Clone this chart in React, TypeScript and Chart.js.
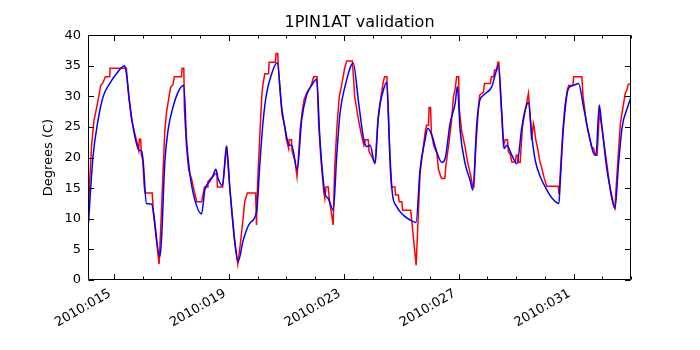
import { useEffect, useRef } from 'react';
import { Chart, registerables } from 'chart.js';

Chart.register(...registerables);

const TITLE = '1PIN1AT validation';
const Y_LABEL = 'Degrees (C)';
const X_MIN = 14.094;
const X_MAX = 33.0;
const X_MAJOR_DAYS = [15, 19, 23, 27, 31];
const X_TICK_LABELS = ['2010:015', '2010:019', '2010:023', '2010:027', '2010:031'];
const X_MINOR_DAYS = [15, 16, 17, 18, 19, 20, 21, 22, 23, 24, 25, 26, 27, 28, 29, 30, 31, 32, 33];
const Y_TICKS = [0, 5, 10, 15, 20, 25, 30, 35, 40];

// Model (blue)
const BLUE_DAY = [
  14.094, 14.268, 14.443, 14.617, 14.85, 15.084, 15.373, 15.432, 15.547, 15.662,
  15.781, 15.872, 15.955, 16.011, 16.13, 16.304, 16.36, 16.593, 16.652, 16.767,
  16.882, 17.057, 17.231, 17.405, 17.43, 17.524, 17.639, 17.813, 18.047, 18.162,
  18.336, 18.451, 18.545, 18.625, 18.778, 18.918, 19.033, 19.207, 19.322, 19.497,
  19.73, 19.964, 20.079, 20.194, 20.313, 20.487, 20.682, 20.835, 21.01, 21.1,
  21.184, 21.379, 21.532, 21.706, 21.881, 22.055, 22.17, 22.344, 22.459, 22.634,
  22.752, 22.867, 23.041, 23.331, 23.505, 23.679, 23.798, 23.913, 24.088, 24.202,
  24.377, 24.495, 24.61, 24.69, 24.843, 25.073, 25.307, 25.516, 25.655, 25.83,
  25.924, 26.063, 26.238, 26.412, 26.527, 26.701, 26.876, 26.956, 27.05, 27.224,
  27.398, 27.492, 27.632, 27.722, 27.862, 28.154, 28.269, 28.385, 28.503, 28.583,
  28.677, 28.851, 29.026, 29.2, 29.315, 29.43, 29.549, 29.664, 29.838, 30.072,
  30.302, 30.49, 30.535, 30.65, 30.825, 31.0, 31.173, 31.347, 31.522, 31.696,
  31.78, 31.895, 31.988, 32.163, 32.337, 32.442, 32.567, 32.692, 32.886, 33.0,
];
const BLUE_TEMP = [
  8.2, 20.1, 26.1, 29.9, 32.1, 33.7, 35.0, 33.7, 28.9, 25.0,
  22.3, 21.2, 21.1, 19.6, 12.5, 12.4, 11.5, 3.8, 6.5, 19.1,
  24.5, 28.3, 30.7, 31.8, 31.8, 22.9, 17.4, 13.1, 10.8, 14.7,
  16.1, 17.1, 18.1, 16.6, 15.4, 21.9, 15.0, 6.0, 3.0, 6.5,
  9.3, 11.2, 19.1, 26.1, 30.5, 33.7, 35.5, 28.3, 23.4, 22.0,
  22.0, 18.0, 26.1, 30.2, 31.8, 32.8, 22.9, 14.2, 13.3, 11.4,
  20.1, 27.2, 31.6, 35.4, 29.4, 23.4, 21.8, 22.0, 19.0, 26.7,
  31.0, 32.3, 20.1, 14.2, 12.0, 10.6, 9.8, 9.4, 18.0, 22.9,
  24.8, 23.7, 20.9, 19.2, 19.8, 25.6, 28.8, 31.6, 24.5, 19.0,
  16.3, 14.7, 25.6, 29.1, 30.2, 31.6, 33.5, 35.1, 27.2, 21.5,
  22.0, 20.4, 19.0, 25.0, 27.8, 29.0, 23.4, 19.6, 16.9, 14.7,
  13.1, 12.5, 16.0, 25.0, 31.3, 31.8, 32.1, 28.3, 24.0, 20.7,
  20.4, 28.6, 25.0, 18.0, 13.6, 11.7, 19.0, 25.0, 28.3, 29.9,
];

// Telemetry (red)
const RED_DAY = [
  14.094, 14.15, 14.22, 14.3, 14.4, 14.47, 14.53, 14.62, 14.7, 14.85,
  14.86, 15.43, 15.5, 15.6, 15.72, 15.8, 15.86, 15.88, 15.93, 15.95,
  16.0, 16.05, 16.08, 16.33, 16.37, 16.5, 16.57, 16.64, 16.7, 16.77,
  16.83, 16.9, 16.97, 17.05, 17.1, 17.35, 17.37, 17.43, 17.45, 17.52,
  17.6, 17.7, 17.81, 17.88, 18.05, 18.15, 18.25, 18.27, 18.35, 18.45,
  18.52, 18.58, 18.6, 18.78, 18.92, 19.03, 19.2, 19.31, 19.4, 19.5,
  19.55, 19.64, 19.93, 19.96, 20.0, 20.08, 20.15, 20.19, 20.25, 20.38,
  20.4, 20.62, 20.64, 20.7, 20.72, 20.78, 20.85, 20.93, 21.0, 21.08,
  21.1, 21.18, 21.2, 21.3, 21.37, 21.42, 21.48, 21.55, 21.62, 21.72,
  21.8, 21.88, 21.95, 22.07, 22.12, 22.2, 22.3, 22.34, 22.38, 22.46,
  22.5, 22.63, 22.68, 22.76, 22.84, 22.93, 23.03, 23.1, 23.3, 23.38,
  23.5, 23.6, 23.7, 23.75, 23.85, 23.88, 23.98, 24.06, 24.1, 24.18,
  24.28, 24.38, 24.42, 24.5, 24.62, 24.66, 24.78, 24.8, 24.9, 24.93,
  25.02, 25.05, 25.33, 25.52, 25.655, 25.83, 25.88, 25.95, 25.97, 26.02,
  26.05, 26.13, 26.24, 26.3, 26.4, 26.52, 26.55, 26.65, 26.75, 26.82,
  26.88, 26.93, 27.0, 27.02, 27.1, 27.22, 27.3, 27.42, 27.49, 27.53,
  27.6, 27.68, 27.73, 27.86, 27.9, 28.1, 28.14, 28.22, 28.25, 28.33,
  28.36, 28.4, 28.45, 28.52, 28.56, 28.62, 28.7, 28.73, 28.8, 28.85,
  28.98, 29.0, 29.06, 29.08, 29.14, 29.22, 29.28, 29.35, 29.43, 29.47,
  29.54, 29.6, 29.63, 29.68, 29.75, 29.82, 29.88, 29.98, 30.07, 30.47,
  30.49, 30.52, 30.62, 30.7, 30.78, 30.83, 30.98, 31.0, 31.29, 31.33,
  31.45, 31.6, 31.63, 31.7, 31.76, 31.82, 31.9, 31.95, 32.0, 32.1,
  32.2, 32.3, 32.37, 32.44, 32.48, 32.63, 32.8, 32.85, 32.91, 33.0,
];
const RED_TEMP = [
  9.5, 16, 22, 26, 28.3, 30, 31.7, 32.3, 33.2, 33.2,
  34.6, 34.6, 30.5, 26.5, 24, 22.5, 21.2, 23.0, 23.0, 20.5,
  19.6, 15.5, 14.2, 14.2, 11, 5.5, 2.6, 10, 17, 24.5,
  27.5, 29.5, 31.5, 31.9, 33.2, 33.2, 34.6, 34.6, 28, 22,
  18.0, 16.5, 14.2, 12.8, 12.8, 15.2, 15.2, 16.1, 16.5, 16.9,
  17.4, 17.4, 15.2, 15.2, 21.9, 15, 6.5, 2.6, 6, 10.3,
  12.8, 14.2, 14.2, 9.0, 16, 24, 30.5, 32.1, 33.7, 33.7,
  35.6, 35.6, 37.0, 37.0, 35.2, 31, 27, 25.5, 23.0, 21.5,
  22.9, 22.9, 21, 19.5, 16.9, 20, 24.5, 27.5, 29.5, 30.7,
  31.2, 32, 33.2, 33.2, 26, 20, 14.5, 13.3, 15.2, 15.2,
  13, 9.0, 18, 25, 29.9, 32, 34.6, 35.8, 35.8, 30,
  26.5, 24, 22.0, 22.9, 22.9, 21, 20.1, 19.3, 19.5, 25.5,
  29.5, 32.5, 33.2, 33.2, 18, 15.2, 15.2, 13.9, 13.9, 12.8,
  12.8, 11.4, 11.4, 2.4, 17.4, 24.0, 25.3, 25.3, 28.2, 28.2,
  24, 22, 20.7, 18.0, 16.6, 16.6, 18.5, 22, 26, 30,
  31.3, 33.2, 33.2, 28, 24.5, 21.8, 19.5, 17, 15.2, 15.2,
  22, 27.5, 30.2, 30.7, 32.1, 32.1, 33.2, 33.2, 34.3, 34.3,
  35.6, 35.6, 31, 25, 22.0, 22.9, 22.9, 21, 20.5, 19.3,
  19.3, 20.4, 20.4, 19.2, 19.2, 25.0, 26.7, 28.5, 30.5, 28,
  22.9, 25.6, 25.0, 23, 21.5, 19.5, 18.5, 16.6, 15.3, 15.3,
  14.0, 16, 24, 28.5, 31, 31.8, 31.8, 33.2, 33.2, 30,
  25.6, 22.5, 21.8, 21.5, 20.4, 20.4, 27.5, 26, 24.5, 21,
  17.5, 14, 12.5, 11.7, 15, 25.6, 30.5, 31, 32.0, 32.0,
];

const zip = (xs: number[], ys: number[]) => xs.map((x, i) => ({ x, y: ys[i] }));

const frameTicks = {
  id: 'frameTicks',
  afterDatasetsDraw(chart: any) {
    const { ctx, chartArea, scales } = chart;
    const { left, right, top, bottom } = chartArea;
    const xs = scales.x;
    const ys = scales.y;
    const L = Math.round(left) + 0.5;
    const R = Math.round(right) - 0.5;
    const T = Math.round(top) + 0.5;
    const B = Math.round(bottom) - 0.5;
    ctx.save();
    ctx.strokeStyle = '#000';
    ctx.lineWidth = 1;
    ctx.beginPath();
    ctx.rect(L, T, R - L, B - T);
    X_MINOR_DAYS.forEach((d) => {
      const px = Math.round(xs.getPixelForValue(d)) + 0.5;
      const len = X_MAJOR_DAYS.includes(d) ? 5.5 : 3;
      ctx.moveTo(px, B);
      ctx.lineTo(px, B - len);
      ctx.moveTo(px, T);
      ctx.lineTo(px, T + len);
    });
    Y_TICKS.forEach((v) => {
      const py = Math.round(ys.getPixelForValue(v)) + 0.5;
      ctx.moveTo(L, py);
      ctx.lineTo(L + 5.5, py);
      ctx.moveTo(R, py);
      ctx.lineTo(R - 5.5, py);
    });
    ctx.stroke();
    ctx.restore();
  },
};

export default function App() {
  const ref = useRef<HTMLCanvasElement | null>(null);

  useEffect(() => {
    if (!ref.current) return;
    Chart.defaults.font.family = "'DejaVu Sans', sans-serif";
    Chart.defaults.color = '#000';
    const chart = new Chart(ref.current, {
      type: 'line',
      data: {
        datasets: [
          {
            label: 'Model',
            data: zip(BLUE_DAY, BLUE_TEMP),
            borderColor: '#0000ff',
            borderWidth: 1.5,
            pointRadius: 0,
            fill: false,
            cubicInterpolationMode: 'monotone',
          },
          {
            label: 'Telemetry',
            data: zip(RED_DAY, RED_TEMP),
            borderColor: '#ff0000',
            borderWidth: 1.5,
            pointRadius: 0,
            fill: false,
            tension: 0,
          },
        ],
      },
      plugins: [frameTicks],
      options: {
        animation: false,
        responsive: true,
        maintainAspectRatio: false,
        devicePixelRatio: 1,
        layout: { padding: { left: 0, right: 69, top: 0, bottom: 0 } },
        plugins: {
          legend: { display: false },
          tooltip: { enabled: false },
          title: {
            display: true,
            text: TITLE,
            fullSize: false,
            color: '#000',
            font: { size: 16, weight: 'normal' },
            padding: { top: 13, bottom: 3 },
          },
        },
        scales: {
          x: {
            type: 'linear',
            min: X_MIN,
            max: X_MAX,
            border: { display: false },
            grid: { display: false, drawTicks: false },
            afterBuildTicks: (s: any) => {
              s.ticks = X_MAJOR_DAYS.map((v) => ({ value: v }));
            },
            afterFit: (s: any) => {
              s.height = 70;
            },
            ticks: {
              autoSkip: false,
              minRotation: 30,
              maxRotation: 30,
              padding: 6,
              labelOffset: -4,
              color: '#000',
              font: { size: 13 },
              callback: (v: any) => {
                const i = X_MAJOR_DAYS.indexOf(Number(v));
                return i >= 0 ? X_TICK_LABELS[i] : '';
              },
            },
          },
          y: {
            type: 'linear',
            min: 0,
            max: 40,
            border: { display: false },
            grid: { display: false, drawTicks: false },
            afterFit: (s: any) => {
              s.width = 88;
            },
            ticks: {
              stepSize: 5,
              padding: 7,
              color: '#000',
              font: { size: 13 },
            },
            title: {
              display: true,
              text: Y_LABEL,
              color: '#000',
              font: { size: 13 },
              padding: { top: 41, bottom: 0 },
            },
          },
        },
      },
    });
    return () => chart.destroy();
  }, []);

  return (
    <div style={{ position: 'absolute', left: 0, top: 0, width: 700, height: 350, background: '#fff' }}>
      <canvas ref={ref} />
    </div>
  );
}
